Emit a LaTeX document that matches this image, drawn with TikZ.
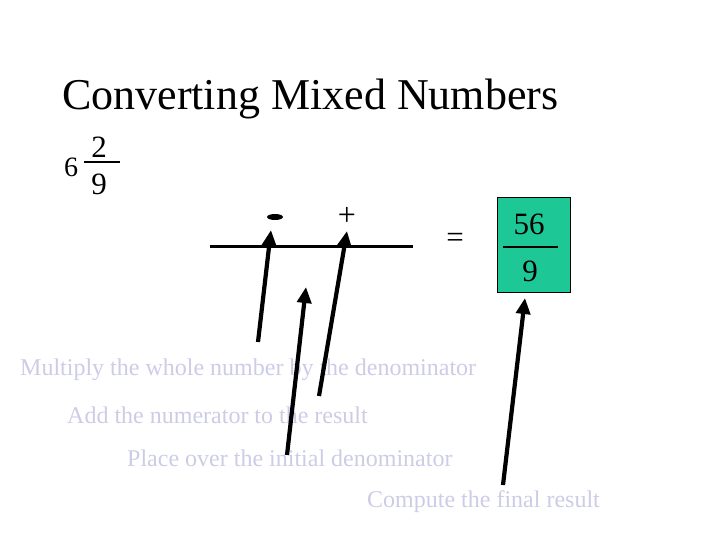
\documentclass[tikz,border=0pt]{standalone}
\usepackage{fontspec}
\setmainfont{Liberation Serif}
\usepackage{xcolor}
\usetikzlibrary{arrows.meta,shapes.geometric}
\definecolor{hint}{RGB}{204,204,230}
\definecolor{answer}{RGB}{30,200,150}
\tikzset{
  big/.style={font=\fontsize{31}{36}\selectfont, inner sep=0pt},
  hinttext/.style={font=\fontsize{24}{28}\selectfont, text=hint, inner sep=0pt, anchor=base west},
  pointer/.style={line width=4.2pt, -{Triangle[width=14pt,length=16pt]}}
}
\begin{document}
\begin{tikzpicture}[x=1pt,y=-1pt]
			\useasboundingbox (0,0) rectangle (720,540);
			% Tiêu đề
			\node[font=\fontsize{44}{50}\selectfont, inner sep=0pt, anchor=base west] (title) at (62,110) {Converting Mixed Numbers};
			% Hỗn số
			\node[font=\fontsize{28}{32}\selectfont, inner sep=0pt] (whole) at (71,167) {6};
			\node[big] (num) at (99,147) {2};
			\node[big] (den) at (99,184) {9};
			\draw [line width=2.5pt] (84,162) -- (120,162);
			% Dòng trống
			\draw [line width=3pt] (210,246) -- (413,246);
			\node[ellipse, fill=black, minimum width=16pt, minimum height=6pt, inner sep=0pt] (minus) at (275,217) {};
			\node[font=\fontsize{32}{36}\selectfont, inner sep=0pt] (plus) at (347,216) {+};
			\node[big] (equals) at (455,240) {=};
			% Kết quả
			\node[draw, thin, fill=answer, minimum width=73pt, minimum height=95pt, inner sep=0pt] (result) at (533.5,245) {};
			\node[big] (top) at (529,224) {56};
			\node[big] (bottom) at (530,271) {9};
			\draw [line width=2.5pt] (503,247) -- (558,247);
			% Các bước
			\node[hinttext] (step1) at (20,375) {Multiply the whole number by the denominator};
			\node[hinttext] (step2) at (67,423) {Add the numerator to the result};
			\node[hinttext] (step3) at (127,466) {Place over the initial denominator};
			\node[hinttext] (step4) at (367,507) {Compute the final result};
			% Mũi tên
			\coordinate (t1) at (258,342); \coordinate (h1) at (271,230);
			\coordinate (t2) at (287,455); \coordinate (h2) at (306,287);
			\coordinate (t3) at (319,396); \coordinate (h3) at (347,231);
			\coordinate (t4) at (503,485); \coordinate (h4) at (525,298);
			\foreach \i in {1,2,3,4}
			\draw [pointer] (t\i) -- (h\i);
\end{tikzpicture}
\end{document}
